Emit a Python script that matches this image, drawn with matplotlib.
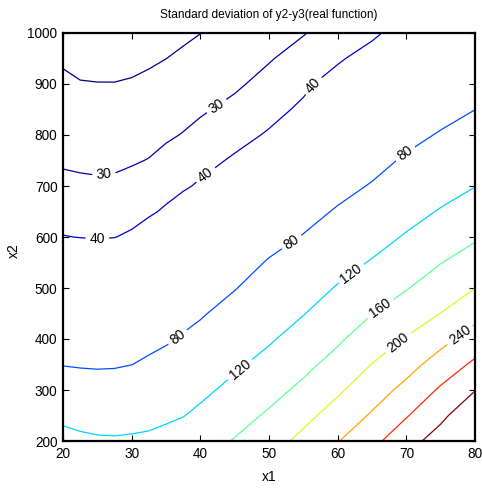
import numpy as np
import matplotlib
matplotlib.use("Agg")
import matplotlib.pyplot as plt

plt.rcParams['font.family'] = ['Liberation Sans', 'DejaVu Sans']

# grid axes
x1_values = [20, 22.5, 25, 27.5, 30, 32.5, 35, 37.5, 40, 45, 50, 55, 60, 65, 70, 75, 80]
x2_values = [200, 250, 300, 350, 400, 450, 500, 550, 600, 650, 700, 750, 800, 850, 900, 950, 1000]

# standard deviation, one column per x1 value (rows follow x2_values)
z_x1_20 = [130.5, 113.0, 95.4, 79.1, 71.3, 63.6, 55.8, 48.1, 40.3, 36.2, 32.2, 28.9, 26.4, 24.0, 21.5, 19.0, 16.5]
z_x1_22 = [126.4, 109.5, 92.5, 78.0, 70.3, 62.6, 54.9, 47.2, 39.8, 35.7, 31.7, 28.4, 25.8, 23.1, 20.4, 17.8, 15.1]
z_x1_25 = [123.9, 107.5, 91.1, 77.5, 69.8, 62.2, 54.5, 46.8, 39.5, 35.4, 31.3, 28.2, 25.5, 22.9, 20.2, 17.6, 14.9]
z_x1_27 = [123.2, 107.3, 91.5, 77.9, 70.2, 62.6, 55.0, 47.3, 39.8, 35.7, 31.6, 28.4, 25.7, 22.9, 20.2, 17.5, 14.8]
z_x1_30 = [124.1, 109.3, 94.5, 79.8, 72.2, 64.5, 56.8, 49.1, 41.4, 36.7, 32.8, 29.2, 26.3, 23.5, 20.7, 17.9, 15.1]
z_x1_32 = [125.6, 111.5, 97.4, 83.3, 74.4, 67.0, 59.6, 52.3, 44.9, 38.6, 34.5, 30.3, 27.4, 24.5, 21.7, 18.8, 15.9]
z_x1_35 = [129.0, 115.4, 101.8, 88.2, 77.1, 70.0, 62.8, 55.6, 48.5, 41.3, 36.6, 32.5, 28.8, 25.9, 22.9, 19.95, 17.1]
z_x1_37 = [136.0, 119.0, 106.7, 94.3, 82.0, 73.9, 66.7, 59.4, 52.2, 44.9, 38.7, 34.5, 30.4, 27.3, 24.4, 21.4, 18.5]
z_x1_40 = [144.5, 126.9, 112.5, 100.2, 87.9, 77.4, 70.2, 63.0, 55.7, 48.5, 41.3, 36.6, 32.5, 28.9, 25.9, 23.0, 19.9]
z_x1_45 = [162.3, 145.8, 129.2, 114.6, 102.4, 90.2, 78.8, 71.3, 63.8, 56.3, 48.8, 41.4, 36.5, 32.3, 28.6, 25.6, 22.6]
z_x1_50 = [183.6, 164.9, 147.7, 131.0, 116.1, 104.6, 93.1, 81.6, 73.1, 65.1, 57.1, 49.1, 41.1, 36.7, 32.9, 29.3, 26.3]
z_x1_55 = [210.5, 188.9, 168.3, 150.4, 134.4, 118.7, 106.2, 93.6, 81.0, 73.2, 65.8, 58.5, 51.1, 41.9, 37.9, 33.7, 29.5]
z_x1_60 = [238.2, 216.2, 194.2, 173.3, 154.5, 138.4, 122.2, 108.5, 95.2, 81.9, 73.8, 66.5, 59.3, 52.0, 44.8, 38.5, 34.0]
z_x1_65 = [269.4, 244.1, 222.1, 200.9, 180.0, 159.3, 140.8, 122.3, 108.2, 94.8, 81.4, 73.6, 66.4, 59.3, 52.1, 45.0, 37.7]
z_x1_70 = [305.4, 277.3, 250.7, 225.9, 202.3, 179.8, 157.9, 140.3, 122.8, 109.0, 95.8, 82.6, 74.3, 67.1, 60.0, 52.8, 45.7]
z_x1_75 = [337.1, 311.2, 285.2, 256.8, 228.3, 200.5, 179.6, 158.9, 140.5, 122.2, 108.3, 94.9, 81.6, 73.4, 65.9, 58.4, 50.9]
z_x1_80 = [381.3, 350.0, 318.8, 287.3, 257.0, 227.6, 199.6, 177.1, 155.6, 137.2, 119.2, 106.1, 92.9, 79.85, 72.4, 64.9, 57.4]

contour_levels = [20, 30, 40, 80, 120, 160, 200, 240, 280, 320]

x_ticks = [20, 30, 40, 50, 60, 70, 80]
y_ticks = [200, 300, 400, 500, 600, 700, 800, 900, 1000]

Z = np.column_stack([z_x1_20, z_x1_22, z_x1_25, z_x1_27, z_x1_30, z_x1_32, z_x1_35,
                     z_x1_37, z_x1_40, z_x1_45, z_x1_50, z_x1_55, z_x1_60, z_x1_65,
                     z_x1_70, z_x1_75, z_x1_80])
X, Y = np.meshgrid(x1_values, x2_values)

fig = plt.figure(figsize=(4.82, 4.90), dpi=100)
ax = fig.add_axes([63 / 482, 1 - 441 / 490, (475 - 63) / 482, (441 - 33) / 490])

cs = ax.contour(X, Y, Z, levels=contour_levels, cmap='jet', linewidths=0.9)

# where the labels sit (30, 40, 80, 120, 160, 200, 240)
label_positions = [(26, 718), (42.3, 858),
                   (25, 595), (41, 718), (57.4, 887),
                   (36.8, 402), (53.2, 592), (69.7, 766),
                   (45.8, 340), (62, 528),
                   (66.3, 458), (68.8, 393), (77.8, 408)]
ax.clabel(cs, manual=label_positions, fmt='%d',
          colors='k', fontsize=10, inline=True, inline_spacing=4)

ax.set_xlim(20, 80)
ax.set_ylim(200, 1000)
ax.set_xticks(x_ticks)
ax.set_yticks(y_ticks)
ax.tick_params(direction='in', length=4, width=0.8, top=True, right=True,
               labelsize=9.8, pad=4, colors='k')
for sp in ax.spines.values():
    sp.set_linewidth(1.6)

ax.set_title('Standard deviation of y2-y3(real function)', fontsize=8.6, pad=10.5)
ax.set_xlabel('x1', fontsize=10, labelpad=7)
ax.set_ylabel('x2', fontsize=10)
ax.yaxis.set_label_coords(-0.102, 0.466)

fig.savefig('out.png', dpi=100)
